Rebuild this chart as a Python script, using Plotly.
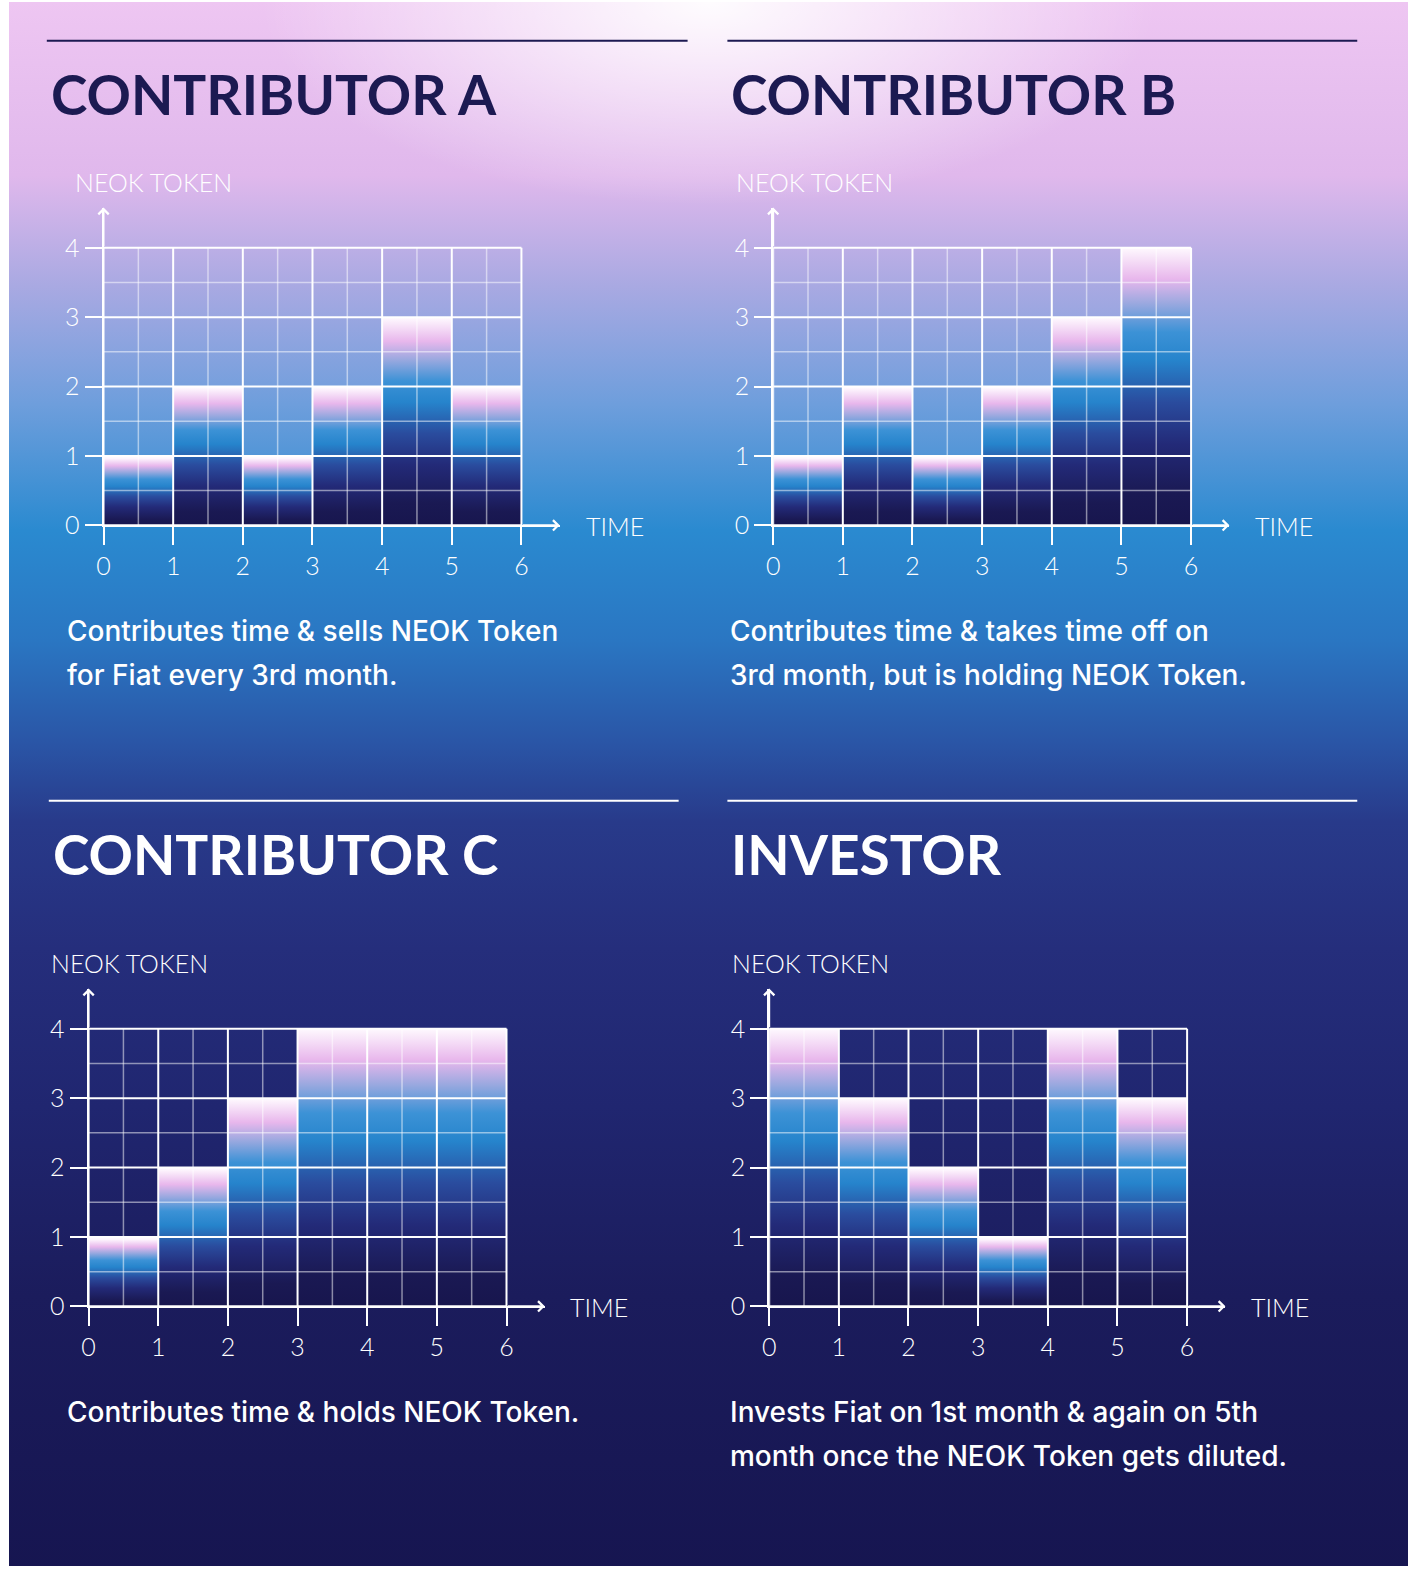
import plotly.graph_objects as go

W, H = 1408, 1580

# data
time_ticks = [0, 1, 2, 3, 4, 5, 6]
token_ticks = [0, 1, 2, 3, 4]
months = [0, 1, 2, 3, 4, 5]

contributor_a = [1, 2, 1, 2, 3, 2]
contributor_b = [1, 2, 1, 2, 3, 4]
contributor_c = [1, 2, 3, 4, 4, 4]
investor = [4, 3, 2, 1, 4, 3]

titles = ['CONTRIBUTOR A', 'CONTRIBUTOR B', 'CONTRIBUTOR C', 'INVESTOR']
captions = [
    ['Contributes time & sells NEOK Token', 'for Fiat every 3rd month.'],
    ['Contributes time & takes time off on', '3rd month, but is holding NEOK Token.'],
    ['Contributes time & holds NEOK Token.'],
    ['Invests Fiat on 1st month & again on 5th', 'month once the NEOK Token gets diluted.'],
]
y_label = 'NEOK TOKEN'
x_label = 'TIME'

series = [contributor_a, contributor_b, contributor_c, investor]

# page layout in pixels (origin of each chart = time 0 / token 0)
panels = [
    dict(ox=97, oy=530, rule=(40, 684, 41), title=(42, 95), ylab=(66, 184), time=(580, 531), cap=(58, 637), ink='#1c1a52'),
    dict(ox=770, oy=530, rule=(724, 1357, 41), title=(726, 95), ylab=(731, 184), time=(1252, 531), cap=(725, 637), ink='#1c1a52'),
    dict(ox=82, oy=1318, rule=(42, 675, 808), title=(44, 862), ylab=(42, 972), time=(564, 1319), cap=(58, 1425), ink='white'),
    dict(ox=766, oy=1318, rule=(724, 1357, 808), title=(726, 862), ylab=(727, 972), time=(1248, 1319), cap=(725, 1425), ink='white'),
]
UNIT = 70          # px per unit on both axes
X_END, Y_END = 6.55, 4.58

bg_scale = [
    [0.0, '#161550'], [0.18, '#1b1c5c'], [0.30, '#202670'], [0.40, '#252e7c'],
    [0.48, '#283a8a'], [0.53, '#2a55a6'], [0.595, '#2a76c2'], [0.665, '#2a8ad0'],
    [0.745, '#6e9edc'], [0.82, '#a9a9e2'], [0.89, '#e0b8ec'], [1.0, '#eec6f2'],
]
bar_scale = [
    [0.0, '#17154d'], [0.12, '#1a1953'], [0.30, '#232a78'], [0.45, '#2a4c9e'],
    [0.60, '#2684cc'], [0.70, '#3c92d6'], [0.80, '#98a8df'], [0.89, '#e8b7ec'],
    [1.0, '#fef8fe'],
]

TICKFONT = dict(family='Lato', size=25, color='white', weight=300)


def px(x):
    return x / W


def py(y):
    return 1 - y / H


fig = go.Figure()

# background gradient on a full-page axis pair
fig.add_trace(go.Scatter(
    x=[0, 1, 1, 0, 0], y=[0, 0, 1, 1, 0], mode='lines', fill='toself',
    line=dict(width=0), hoverinfo='skip', showlegend=False,
    fillgradient=dict(type='vertical', colorscale=bg_scale, start=0, stop=1),
    xaxis='x', yaxis='y'))
# soft white glow at the top centre
fig.add_trace(go.Scatter(
    x=[0.18, 0.82, 0.82, 0.18, 0.18], y=[0.87, 0.87, 1.13, 1.13, 0.87], mode='lines', fill='toself',
    line=dict(width=0), hoverinfo='skip', showlegend=False,
    fillgradient=dict(type='radial', colorscale=[[0, 'rgba(255,255,255,0.95)'], [1, 'rgba(255,255,255,0)']]),
    xaxis='x', yaxis='y'))

layout_axes = dict(
    xaxis=dict(domain=[px(2), 1], range=[0, 1], visible=False, fixedrange=True),
    yaxis=dict(domain=[0, py(2)], range=[0, 1], visible=False, fixedrange=True),
)

annotations = []
shapes = []

for n, (vals, p) in enumerate(zip(series, panels), start=2):
    xa, ya = f'x{n}', f'y{n}'

    # gradient bars
    for m, h in zip(months, vals):
        fig.add_trace(go.Scatter(
            x=[m, m + 1, m + 1, m, m], y=[0, 0, h, h, 0], mode='lines', fill='toself',
            line=dict(width=0), hoverinfo='skip', showlegend=False,
            fillgradient=dict(type='vertical', colorscale=bar_scale, start=0, stop=h),
            xaxis=xa, yaxis=ya))

    # grid drawn over the bars
    x0, x1 = time_ticks[0], time_ticks[-1]
    y0, y1 = token_ticks[0], token_ticks[-1]
    minor_x = [t + 0.5 for t in time_ticks[:-1]]
    minor_y = [t + 0.5 for t in token_ticks[:-1]]
    gx, gy = [], []
    for v in minor_x:
        gx += [v, v, None]
        gy += [y0, y1, None]
    for v in minor_y:
        gx += [x0, x1, None]
        gy += [v, v, None]
    fig.add_trace(go.Scatter(x=gx, y=gy, mode='lines', line=dict(color='rgba(255,255,255,0.5)', width=1.5),
                             hoverinfo='skip', showlegend=False, xaxis=xa, yaxis=ya))
    gx, gy = [], []
    for v in time_ticks:
        gx += [v, v, None]
        gy += [y0, y1, None]
    for v in token_ticks:
        gx += [x0, x1, None]
        gy += [v, v, None]
    fig.add_trace(go.Scatter(x=gx, y=gy, mode='lines', line=dict(color='white', width=2),
                             hoverinfo='skip', showlegend=False, xaxis=xa, yaxis=ya))

    ox, oy = p['ox'], p['oy']
    common = dict(showline=True, linecolor='white', linewidth=2, ticks='outside', tickwidth=2,
                  tickcolor='white', tickfont=TICKFONT, showgrid=False, zeroline=False,
                  fixedrange=True, layer='above traces')
    layout_axes[f'xaxis{n}'] = dict(
        domain=[px(ox), px(ox + X_END * UNIT)], range=[0, X_END], anchor=ya,
        tickvals=time_ticks, ticktext=[str(t) for t in time_ticks], ticklen=18, **common)
    layout_axes[f'yaxis{n}'] = dict(
        domain=[py(oy), py(oy - Y_END * UNIT)], range=[0, Y_END], anchor=xa,
        tickvals=token_ticks, ticktext=[str(t) for t in token_ticks], ticklen=17, **common)

    # axis arrows
    annotations.append(dict(x=X_END, y=0, ax=x1, ay=0, xref=xa, yref=ya, axref=xa, ayref=ya, text='',
                            showarrow=True, arrowhead=4, arrowsize=1, arrowwidth=2, arrowcolor='white'))
    annotations.append(dict(x=0, y=Y_END, ax=0, ay=y1, xref=xa, yref=ya, axref=xa, ayref=ya, text='',
                            showarrow=True, arrowhead=4, arrowsize=1, arrowwidth=2, arrowcolor='white'))

    # texts
    annotations.append(dict(x=px(p['title'][0]), y=py(p['title'][1]), xref='paper', yref='paper',
                            xanchor='left', yanchor='middle', showarrow=False, text=titles[n - 2],
                            font=dict(family='Lato', size=55, color=p['ink'], weight=700)))
    annotations.append(dict(x=px(p['ylab'][0]), y=py(p['ylab'][1]), xref='paper', yref='paper',
                            xanchor='left', yanchor='middle', showarrow=False, text=y_label, font=TICKFONT))
    annotations.append(dict(x=px(p['time'][0]), y=py(p['time'][1]), xref='paper', yref='paper',
                            xanchor='left', yanchor='middle', showarrow=False, text=x_label, font=TICKFONT))
    for i, line in enumerate(captions[n - 2]):
        annotations.append(dict(x=px(p['cap'][0]), y=py(p['cap'][1] + 44 * i), xref='paper', yref='paper',
                                xanchor='left', yanchor='middle', showarrow=False, text=line,
                                font=dict(family='Inter', size=28, color='white', weight=500)))

    rx0, rx1, ry = p['rule']
    shapes.append(dict(type='line', xref='paper', yref='paper', x0=px(rx0), x1=px(rx1), y0=py(ry), y1=py(ry),
                       line=dict(color=p['ink'], width=2)))

fig.update_layout(
    autosize=True, margin=dict(l=0, r=0, t=0, b=0),
    paper_bgcolor='white', plot_bgcolor='rgba(0,0,0,0)',
    showlegend=False, annotations=annotations, shapes=shapes,
    **layout_axes,
)

# pin the plot div to the page corner so the body margin does not shift it
fig.write_html("out.html", config={'displayModeBar': False},
               default_width=f'{W}px', default_height=f'{H}px; position:absolute; left:0; top:0')
